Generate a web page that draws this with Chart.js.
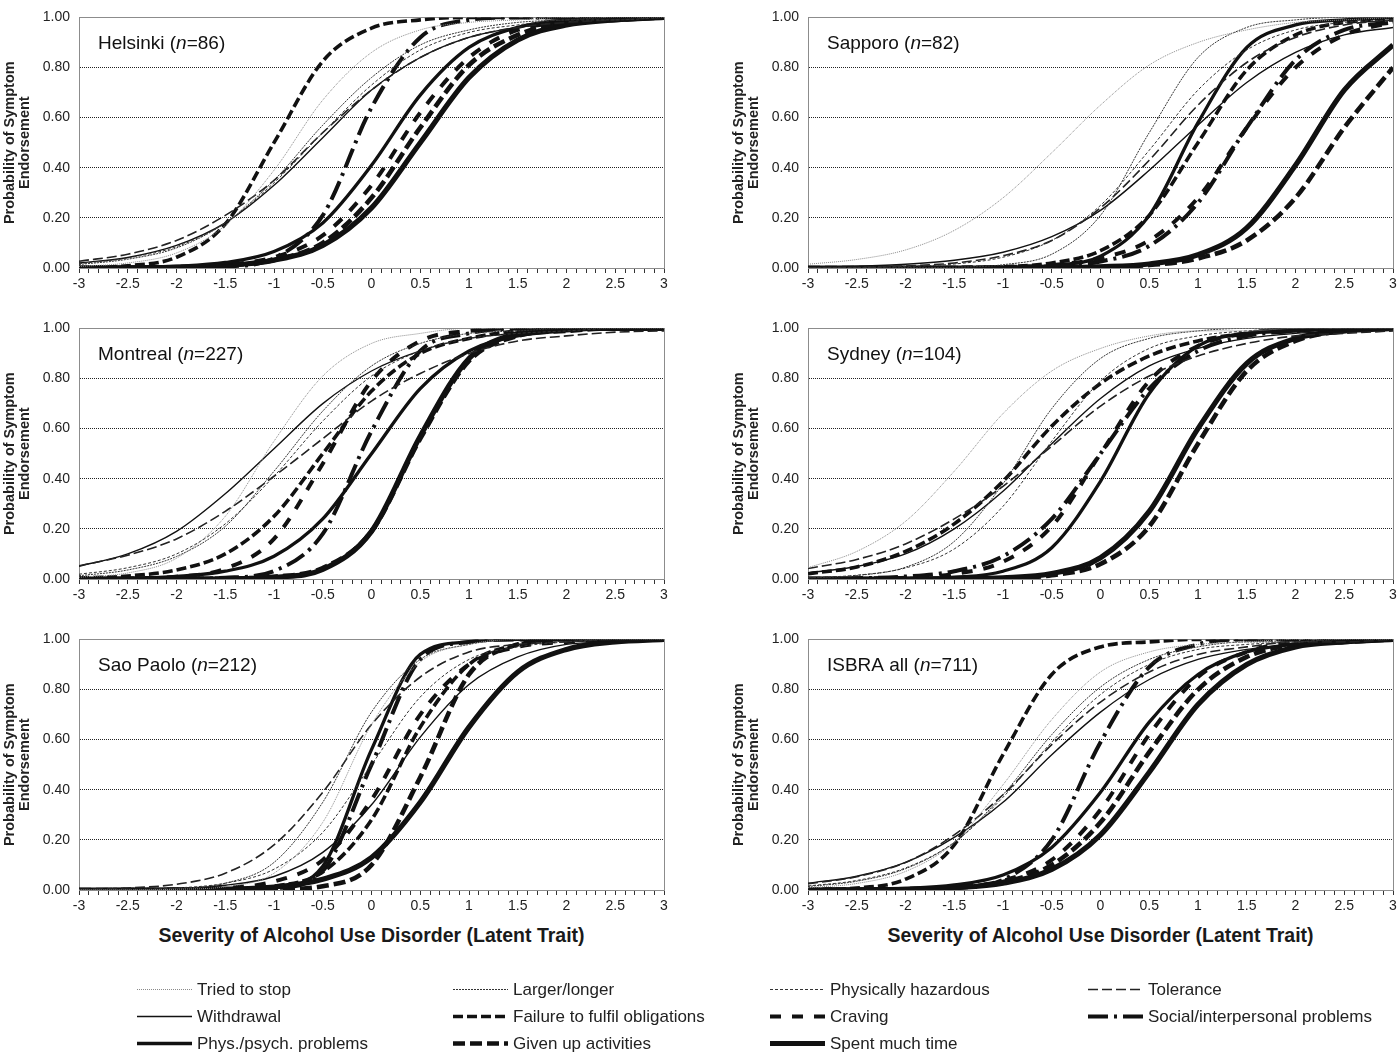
<!DOCTYPE html>
<html>
<head>
<meta charset="utf-8">
<script src="https://cdn.jsdelivr.net/npm/chart.js@4.4.0/dist/chart.umd.min.js"></script>
<style>
  body { margin: 0; background: #fff; width: 1400px; height: 1054px; position: relative; overflow: hidden;
         font-family: Arial, 'Liberation Sans', sans-serif; }
  canvas { position: absolute; }
  .xtitle { position: absolute; width: 585px; text-align: center; font-weight: bold; font-size: 19.5px;
            line-height: 22px; color: #1a1a1a; top: 924px; }
</style>
</head>
<body>
<div class="xtitle" style="left:79px">Severity of Alcohol Use Disorder (Latent Trait)</div>
<div class="xtitle" style="left:808px">Severity of Alcohol Use Disorder (Latent Trait)</div>
<canvas id="legend" width="1400" height="84" style="left:0;top:970px"></canvas>
<script>
// latent trait grid shared by every curve
const thetas = [-3, -2.5, -2, -1.5, -1, -0.5, 0, 0.5, 1, 1.5, 2, 2.5, 3];

const items = ['Tried to stop', 'Larger/longer', 'Physically hazardous', 'Tolerance',
    'Withdrawal', 'Failure to fulfil obligations', 'Craving', 'Social/interpersonal problems',
    'Phys./psych. problems', 'Given up activities', 'Spent much time'];

const panelNames = ['Helsinki', 'Sapporo', 'Montreal', 'Sydney', 'Sao Paolo', 'ISBRA all'];
const panelN = [86, 82, 227, 104, 212, 711];

// one row per item, in the order of `items`
const helsinki = [
    [0.006, 0.02, 0.06, 0.17, 0.39, 0.67, 0.86, 0.95, 0.98, 0.99, 1, 1, 1],
    [0.014, 0.035, 0.08, 0.18, 0.35, 0.57, 0.76, 0.89, 0.95, 0.98, 0.99, 1, 1],
    [0.017, 0.04, 0.085, 0.18, 0.34, 0.54, 0.73, 0.87, 0.94, 0.97, 0.99, 0.99, 1],
    [0.027, 0.055, 0.11, 0.21, 0.35, 0.54, 0.71, 0.84, 0.92, 0.96, 0.98, 0.99, 1],
    [0.02, 0.042, 0.09, 0.18, 0.33, 0.52, 0.71, 0.84, 0.92, 0.96, 0.98, 0.99, 1],
    [0.002, 0.009, 0.043, 0.175, 0.5, 0.825, 0.957, 0.99, 1, 1, 1, 1, 1],
    [0, 0.001, 0.004, 0.013, 0.043, 0.13, 0.33, 0.62, 0.84, 0.95, 0.98, 0.99, 1],
    [0, 0, 0.001, 0.006, 0.039, 0.21, 0.64, 0.92, 0.99, 1, 1, 1, 1],
    [0.001, 0.002, 0.007, 0.022, 0.066, 0.18, 0.41, 0.69, 0.88, 0.96, 0.99, 1, 1],
    [0, 0.001, 0.003, 0.01, 0.032, 0.1, 0.28, 0.56, 0.81, 0.93, 0.98, 0.99, 1],
    [0, 0.001, 0.003, 0.01, 0.031, 0.09, 0.24, 0.5, 0.76, 0.91, 0.97, 0.99, 1]
];
const sapporo = [
    [0.015, 0.034, 0.072, 0.15, 0.28, 0.46, 0.65, 0.81, 0.9, 0.95, 0.98, 0.99, 1],
    [0, 0, 0.001, 0.003, 0.013, 0.055, 0.21, 0.54, 0.84, 0.96, 0.99, 1, 1],
    [0.001, 0.002, 0.006, 0.016, 0.043, 0.11, 0.25, 0.47, 0.71, 0.87, 0.95, 0.98, 0.99],
    [0.001, 0.003, 0.008, 0.02, 0.049, 0.11, 0.24, 0.43, 0.65, 0.82, 0.92, 0.97, 0.99],
    [0.003, 0.007, 0.015, 0.031, 0.063, 0.125, 0.23, 0.39, 0.57, 0.74, 0.86, 0.93, 0.96],
    [0, 0, 0, 0.002, 0.005, 0.02, 0.069, 0.21, 0.5, 0.79, 0.93, 0.98, 0.99],
    [0, 0, 0, 0.001, 0.004, 0.012, 0.039, 0.11, 0.28, 0.56, 0.8, 0.93, 0.98],
    [0, 0, 0, 0, 0.002, 0.007, 0.026, 0.088, 0.26, 0.56, 0.83, 0.95, 0.98],
    [0, 0, 0, 0, 0.002, 0.01, 0.047, 0.21, 0.58, 0.88, 0.97, 0.99, 1],
    [0, 0, 0, 0, 0, 0.001, 0.004, 0.012, 0.038, 0.11, 0.28, 0.56, 0.8],
    [0, 0, 0, 0, 0, 0.001, 0.005, 0.016, 0.053, 0.16, 0.41, 0.71, 0.89]
];
const montreal = [
    [0.007, 0.024, 0.083, 0.25, 0.55, 0.81, 0.94, 0.98, 1, 1, 1, 1, 1],
    [0.013, 0.036, 0.09, 0.21, 0.43, 0.67, 0.85, 0.94, 0.98, 0.99, 1, 1, 1],
    [0.019, 0.045, 0.1, 0.22, 0.41, 0.63, 0.81, 0.91, 0.96, 0.98, 0.99, 1, 1],
    [0.053, 0.095, 0.16, 0.27, 0.41, 0.56, 0.71, 0.82, 0.9, 0.95, 0.97, 0.985, 0.99],
    [0.051, 0.1, 0.19, 0.34, 0.52, 0.7, 0.83, 0.91, 0.96, 0.98, 0.99, 1, 1],
    [0.004, 0.012, 0.036, 0.1, 0.25, 0.5, 0.75, 0.9, 0.96, 0.99, 1, 1, 1],
    [0, 0.002, 0.009, 0.041, 0.16, 0.46, 0.79, 0.95, 0.99, 1, 1, 1, 1],
    [0, 0, 0.001, 0.005, 0.032, 0.18, 0.59, 0.91, 0.98, 1, 1, 1, 1],
    [0.001, 0.003, 0.01, 0.031, 0.091, 0.24, 0.5, 0.76, 0.91, 0.97, 0.99, 1, 1],
    [0, 0, 0, 0.002, 0.009, 0.044, 0.19, 0.56, 0.87, 0.97, 0.99, 1, 1],
    [0, 0, 0, 0.001, 0.007, 0.038, 0.19, 0.57, 0.88, 0.98, 1, 1, 1]
];
const sydney = [
    [0.045, 0.11, 0.23, 0.43, 0.66, 0.83, 0.92, 0.97, 0.99, 0.99, 1, 1, 1],
    [0.004, 0.014, 0.047, 0.15, 0.38, 0.68, 0.88, 0.96, 0.99, 1, 1, 1, 1],
    [0.005, 0.015, 0.044, 0.12, 0.29, 0.55, 0.79, 0.92, 0.97, 0.99, 1, 1, 1],
    [0.042, 0.078, 0.14, 0.24, 0.37, 0.53, 0.69, 0.81, 0.89, 0.94, 0.97, 0.98, 0.99],
    [0.024, 0.05, 0.1, 0.2, 0.35, 0.54, 0.72, 0.85, 0.92, 0.96, 0.98, 0.99, 1],
    [0.021, 0.048, 0.11, 0.22, 0.39, 0.61, 0.78, 0.89, 0.95, 0.98, 0.99, 1, 1],
    [0, 0.002, 0.005, 0.02, 0.069, 0.21, 0.5, 0.79, 0.93, 0.98, 0.99, 1, 1],
    [0.001, 0.003, 0.01, 0.031, 0.091, 0.24, 0.5, 0.76, 0.91, 0.97, 0.99, 1, 1],
    [0, 0, 0.002, 0.007, 0.031, 0.125, 0.39, 0.74, 0.93, 0.98, 1, 1, 1],
    [0, 0, 0, 0.001, 0.003, 0.015, 0.06, 0.21, 0.54, 0.83, 0.95, 0.99, 1],
    [0, 0, 0, 0.001, 0.005, 0.022, 0.085, 0.27, 0.6, 0.86, 0.96, 0.99, 1]
];
const saoPaolo = [
    [0, 0, 0.003, 0.013, 0.067, 0.27, 0.66, 0.91, 0.98, 1, 1, 1, 1],
    [0, 0.001, 0.006, 0.027, 0.11, 0.35, 0.71, 0.92, 0.98, 1, 1, 1, 1],
    [0.001, 0.002, 0.008, 0.027, 0.083, 0.23, 0.5, 0.77, 0.92, 0.97, 0.99, 1, 1],
    [0.003, 0.008, 0.023, 0.067, 0.18, 0.39, 0.66, 0.85, 0.95, 0.98, 0.99, 1, 1],
    [0.001, 0.002, 0.006, 0.019, 0.054, 0.15, 0.34, 0.61, 0.82, 0.93, 0.98, 0.99, 1],
    [0, 0, 0.001, 0.003, 0.015, 0.072, 0.28, 0.65, 0.9, 0.98, 1, 1, 1],
    [0, 0.001, 0.002, 0.008, 0.034, 0.12, 0.36, 0.7, 0.9, 0.97, 0.99, 1, 1],
    [0, 0, 0, 0.001, 0.007, 0.076, 0.5, 0.92, 0.99, 1, 1, 1, 1],
    [0, 0, 0, 0.001, 0.009, 0.095, 0.56, 0.94, 0.99, 1, 1, 1, 1],
    [0, 0, 0, 0, 0.002, 0.015, 0.1, 0.45, 0.86, 0.98, 1, 1, 1],
    [0, 0, 0.001, 0.004, 0.012, 0.043, 0.13, 0.35, 0.65, 0.87, 0.96, 0.99, 1]
];
const isbraAll = [
    [0.009, 0.026, 0.074, 0.19, 0.42, 0.68, 0.87, 0.95, 0.98, 0.99, 1, 1, 1],
    [0.014, 0.035, 0.085, 0.19, 0.38, 0.62, 0.81, 0.92, 0.97, 0.99, 0.99, 1, 1],
    [0.016, 0.038, 0.088, 0.19, 0.37, 0.59, 0.78, 0.9, 0.96, 0.98, 0.99, 1, 1],
    [0.025, 0.053, 0.11, 0.22, 0.38, 0.58, 0.75, 0.87, 0.94, 0.97, 0.99, 0.99, 1],
    [0.027, 0.055, 0.11, 0.21, 0.35, 0.54, 0.71, 0.84, 0.92, 0.96, 0.98, 0.99, 1],
    [0.002, 0.008, 0.043, 0.18, 0.54, 0.86, 0.97, 0.99, 1, 1, 1, 1, 1],
    [0, 0.001, 0.003, 0.011, 0.037, 0.12, 0.32, 0.62, 0.85, 0.95, 0.99, 1, 1],
    [0, 0, 0.001, 0.007, 0.041, 0.2, 0.59, 0.89, 0.98, 1, 1, 1, 1],
    [0.001, 0.002, 0.006, 0.02, 0.06, 0.17, 0.39, 0.67, 0.86, 0.95, 0.98, 0.99, 1],
    [0, 0.001, 0.003, 0.01, 0.032, 0.1, 0.27, 0.55, 0.8, 0.93, 0.98, 0.99, 1],
    [0, 0.001, 0.003, 0.009, 0.027, 0.082, 0.22, 0.47, 0.74, 0.9, 0.97, 0.99, 1]
];
const panelData = [helsinki, sapporo, montreal, sydney, saoPaolo, isbraAll];

// line look per item (same order as items)
const lineStyles = [
    { color: '#8a8a8a', width: 1, dash: [1, 1] },
    { color: '#333', width: 1, dash: [2, 1] },
    { color: '#333', width: 1, dash: [3, 2] },
    { color: '#222', width: 1.6, dash: [10, 4] },
    { color: '#111', width: 1.4, dash: [] },
    { color: '#111', width: 3.6, dash: [10, 4] },
    { color: '#111', width: 4, dash: [11, 11] },
    { color: '#111', width: 4, dash: [20, 6, 3, 6] },
    { color: '#111', width: 3.3, dash: [] },
    { color: '#111', width: 4.6, dash: [12, 5] },
    { color: '#111', width: 5.2, dash: [] }
];

const FONT = "Arial, 'Liberation Sans', sans-serif";

const framePlugin = {
    id: 'frame',
    beforeDatasetsDraw(chart) {
        const { ctx, chartArea: a } = chart;
        ctx.save();
        ctx.strokeStyle = '#8c8c8c';
        ctx.lineWidth = 1;
        ctx.strokeRect(Math.round(a.left) + 0.5, Math.round(a.top) + 0.5,
            Math.round(a.right - a.left), Math.round(a.bottom - a.top));
        ctx.restore();
    }
};

const panelLabelPlugin = {
    id: 'panelLabel',
    afterDraw(chart, args, opts) {
        const { ctx, chartArea: a } = chart;
        const parts = [
            { t: opts.name + ' (', f: '19px ' + FONT },
            { t: 'n', f: 'italic 19px ' + FONT },
            { t: '=' + opts.n + ')', f: '19px ' + FONT }
        ];
        let x = a.left + 19;
        const y = a.top + 26;
        ctx.save();
        ctx.fillStyle = '#111';
        ctx.textBaseline = 'middle';
        parts.forEach(p => {
            ctx.font = p.f;
            ctx.fillText(p.t, x, y);
            x += ctx.measureText(p.t).width;
        });
        ctx.restore();
    }
};

const rowTops = [0, 311, 622];

panelData.forEach((values, i) => {
    const canvas = document.createElement('canvas');
    canvas.width = 674;
    canvas.height = 298;
    canvas.style.left = (i % 2 ? 729 : 0) + 'px';
    canvas.style.top = rowTops[Math.floor(i / 2)] + 'px';
    document.body.appendChild(canvas);

    new Chart(canvas, {
        type: 'line',
        data: {
            datasets: items.map((name, k) => ({
                label: name,
                data: thetas.map((t, j) => ({ x: t, y: values[k][j] })),
                borderColor: lineStyles[k].color,
                borderWidth: lineStyles[k].width,
                borderDash: lineStyles[k].dash,
                borderCapStyle: 'butt',
                pointRadius: 0,
                fill: false,
                cubicInterpolationMode: 'monotone'
            }))
        },
        options: {
            responsive: false,
            animation: false,
            devicePixelRatio: 1,
            layout: { padding: { top: 8, right: 10, left: 0, bottom: 0 } },
            plugins: {
                legend: { display: false },
                tooltip: { enabled: false },
                panelLabel: { name: panelNames[i], n: panelN[i] }
            },
            scales: {
                x: {
                    type: 'linear',
                    min: -3,
                    max: 3,
                    ticks: {
                        stepSize: 0.1,
                        maxTicksLimit: 100,
                        autoSkip: false,
                        maxRotation: 0,
                        padding: 3,
                        color: '#222',
                        font: { family: FONT, size: 14 },
                        callback: v => {
                            const h = v * 2;
                            return Math.abs(h - Math.round(h)) < 1e-6 ? String(Math.round(v * 10) / 10) : '';
                        }
                    },
                    grid: { drawOnChartArea: false, drawTicks: true, tickLength: 5, color: '#333' },
                    border: { color: '#8c8c8c' },
                    afterFit: s => { s.height = 30; }
                },
                y: {
                    min: 0,
                    max: 1,
                    ticks: {
                        stepSize: 0.2,
                        padding: 9,
                        color: '#222',
                        font: { family: FONT, size: 14 },
                        callback: v => v.toFixed(2)
                    },
                    grid: {
                        drawTicks: false,
                        color: c => (c.tick && c.tick.value > 0.01 && c.tick.value < 0.99) ? '#222' : 'rgba(0,0,0,0)'
                    },
                    border: { color: '#8c8c8c', dash: [1, 1] },
                    title: {
                        display: true,
                        text: ['Probability of Symptom', 'Endorsement'],
                        color: '#222',
                        font: { family: FONT, size: 14.5, weight: 'bold', lineHeight: 1.05 },
                        padding: { top: 2.5, bottom: 0 }
                    },
                    afterFit: s => { s.width = 79; }
                }
            }
        },
        plugins: [framePlugin, panelLabelPlugin]
    });
});

// legend, 4 columns x 3 rows
const lg = document.getElementById('legend').getContext('2d');
const legendCols = [137, 453, 770, 1088];
const legendRows = [19, 46, 73];
items.forEach((name, k) => {
    const x0 = legendCols[k % 4];
    const y = legendRows[Math.floor(k / 4)];
    const st = lineStyles[k];
    lg.save();
    lg.strokeStyle = st.color;
    lg.lineWidth = st.width;
    lg.setLineDash(st.dash);
    lg.beginPath();
    lg.moveTo(x0, y + 0.5);
    lg.lineTo(x0 + 55, y + 0.5);
    lg.stroke();
    lg.restore();
    lg.fillStyle = '#222';
    lg.font = '17px ' + FONT;
    lg.textBaseline = 'middle';
    lg.fillText(name, x0 + 60, y + 1);
});
</script>
</body>
</html>
